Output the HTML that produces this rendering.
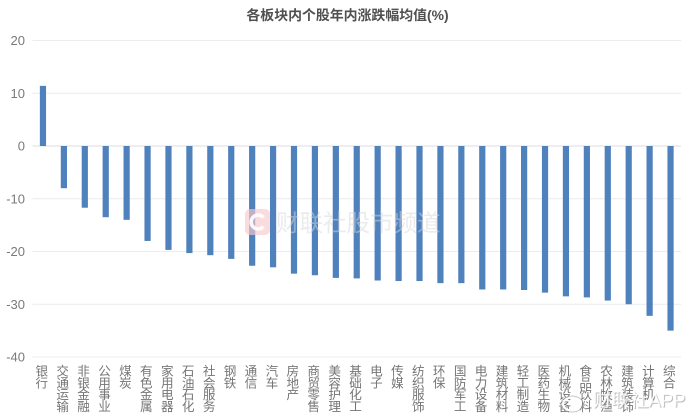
<!DOCTYPE html>
<html>
<head>
<meta charset="utf-8">
<style>
html,body{margin:0;padding:0;background:#fff;width:692px;height:418px;overflow:hidden}
svg{display:block;font-family:"Liberation Sans","Noto Sans CJK SC",sans-serif}
</style>
</head>
<body>
<svg id="chart" width="692" height="418" viewBox="0 0 692 418" xmlns="http://www.w3.org/2000/svg">
<text x="347.5" y="20" text-anchor="middle" font-size="13.9" font-weight="700" fill="#505050">各板块内个股年内涨跌幅均值(%)</text>
<g id="grid"></g>
<g id="yticks"></g>
<g id="bars"></g>
<g id="xlabels"></g>
<g>
<rect x="245" y="209" width="25" height="26" rx="5" fill="#f9c9cc" opacity="0.65"></rect>
<path d="M263.5 217.5 A7 7 0 1 0 263.5 226.5" fill="none" stroke="#fff" stroke-width="3.6" opacity="0.9"></path>
<text x="276" y="231" font-size="23.5" fill="#d8d8d8" fill-opacity="0.5">财联社股市频道</text>
</g>
<g>
<ellipse cx="572" cy="404" rx="9" ry="6.5" fill="none" stroke="#fff" stroke-width="2"></ellipse>
<ellipse cx="572" cy="404" rx="11" ry="8" fill="none" stroke="#999" stroke-width="0.8" opacity="0.7"></ellipse>
<text x="594" y="407.5" font-size="18.5" fill="#888" fill-opacity="0.55">财联社APP</text>
<text x="593" y="406.5" font-size="18.5" fill="#fff" fill-opacity="0.9">财联社APP</text>
</g>
</svg>
<script>
const categories = ["银行","交通运输","非银金融","公用事业","煤炭","有色金属","家用电器","石油石化","社会服务","钢铁","通信","汽车","房地产","商贸零售","美容护理","基础化工","电子","传媒","纺织服饰","环保","国防军工","电力设备","建筑材料","轻工制造","医药生物","机械设备","食品饮料","农林牧渔","建筑装饰","计算机","综合"];
const seriesValues = [11.4,-8,-11.7,-13.5,-14,-18,-19.7,-20.3,-20.7,-21.4,-22.7,-23,-24.2,-24.5,-25,-25.1,-25.5,-25.6,-25.6,-26,-26,-27.2,-27.2,-27.3,-27.8,-28.5,-28.7,-29.3,-30,-32.2,-35];
const tickValues = [20,10,0,-10,-20,-30,-40];

const NS = 'http://www.w3.org/2000/svg';
const plotLeft = 32.5, plotRight = 681, y20 = 40.5, yM40 = 357;
const yScale = v => y20 + (20 - v) * (yM40 - y20) / 60;
const step = (plotRight - plotLeft) / categories.length;
const xScale = i => plotLeft + step * (i + 0.5);
const barWidth = 6.2;

function make(tag, attrs, parent) {
  const el = document.createElementNS(NS, tag);
  for (const k in attrs) el.setAttribute(k, attrs[k]);
  parent.appendChild(el);
  return el;
}

const grid = document.getElementById('grid');
const yticks = document.getElementById('yticks');
tickValues.forEach(t => {
  const line = make('line', {x1: plotLeft, x2: plotRight, y1: yScale(t), y2: yScale(t), stroke: t === 0 ? '#dcdcdc' : '#ececec', 'stroke-width': 1}, grid);
  
  
  const label = make('text', {x: 25, y: yScale(t) + 4.5, 'text-anchor': 'end', 'font-size': 13, fill: '#7a7a7a'}, yticks);
  
  
  label.textContent = t;
});

const bars = document.getElementById('bars');
seriesValues.forEach((v, i) => {
  const top = Math.min(yScale(v), yScale(0));
  const h = Math.abs(yScale(v) - yScale(0));
  const bar = make('rect', {x: xScale(i) - barWidth / 2, y: top, width: barWidth, height: h, fill: '#4f81bd'}, bars);
  
  
});

const xlabels = document.getElementById('xlabels');
categories.forEach((c, i) => {
  const g = make('text', {'font-size': 12.6, fill: '#757575', 'text-anchor': 'middle'}, xlabels);
  
  
  Array.from(c).forEach((ch, j) => {
    const s = make('tspan', {x: xScale(i) - 1.2, y: 375.5 + j * 11.8}, g);
    s.textContent = ch;
  });
});
</script>
</body>
</html>
